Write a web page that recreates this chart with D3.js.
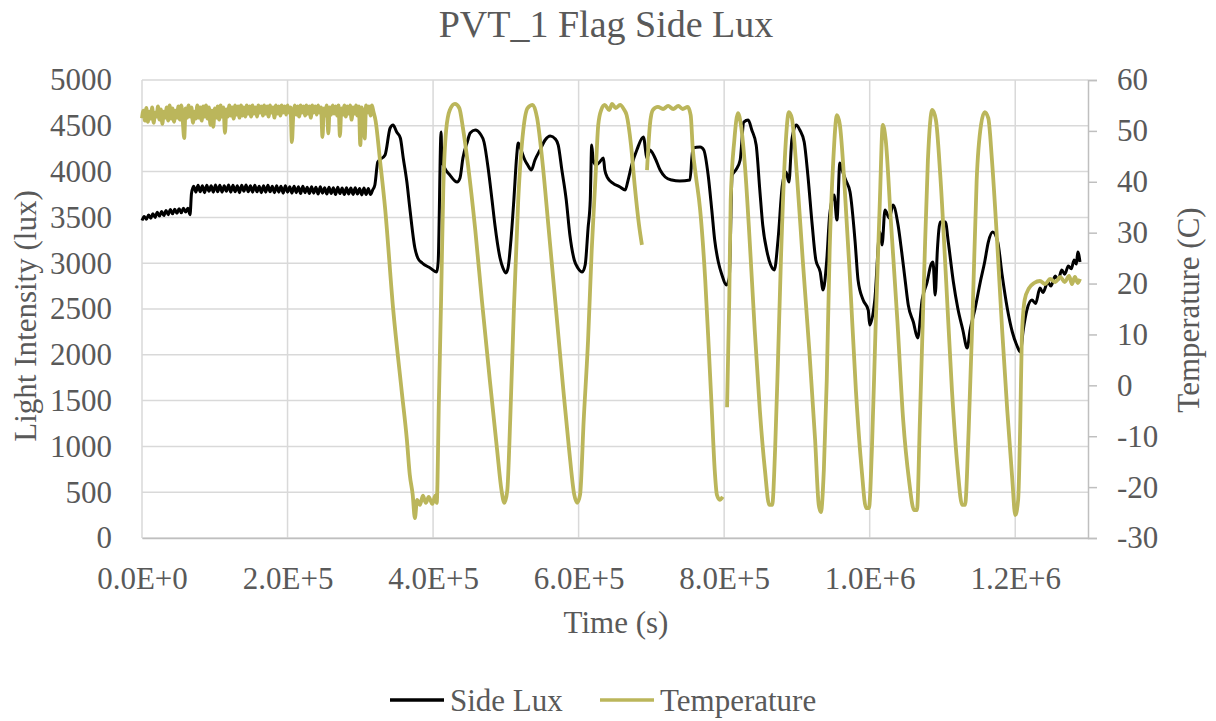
<!DOCTYPE html>
<html>
<head>
<meta charset="utf-8">
<script src="https://cdn.jsdelivr.net/npm/d3@7"></script>
<style>
  body { margin: 0; background: #fff; }
  text { font-family: "Liberation Serif", "Times New Roman", serif; fill: #595959; }
</style>
</head>
<body>
<div id="container"></div>
<script>
// time in kiloseconds
let luxTimeKs = [0,3,6,9,12,15,18,21,24,27,30,33,36,39,42,45,48,51,54,57,60,63,66,68,
  71,74,77,80,83,86,89,92,95,98,101,104,107,110,113,116,119,122,125,128,131,134,137,140,143,146,149,152,155,158,161,164,167,170,173,176,179,182,185,188,191,194,197,200,203,206,209,212,215,218,221,224,227,230,233,236,239,242,245,248,251,254,257,260,263,266,269,272,275,278,281,284,287,290,293,296,299,302,305,308,311,314,317,
  320,324,334,341,345,350,355,359,364,368,375,379,385,396,405,407,411,412,416,423,433,437,441,447,451,458,465,470,476,481,485,492,496,500,503,507,511,515,517,520,526,530,535,540,547,554,561,568,572,577,583,588,594,599,605,609,613,616,618,620,624,629,634,636,640,647,657,664,668,673,680,689,694,698,705,712,719,728,739,753,757,767,772,778,783,787,792,797,803,807,811,816,822,827,833,838,844,849,853,859,864,869,874,880,885,889,893,899,904,910,915,921,926,932,936,941,945,951,955,959,963,967,973,980,984,991,998,1000,1007,1014,1017,1021,1027,1032,1039,1044,1049,1053,1060,1066,1072,1079,1084,1087,1090,1093,1097,1104,1108,1115,1121,1128,1134,1138,1145,1152,1158,1163,1169,1176,1182,1189,1196,1202,1207,1211,1216,1223,1228,1234,1238,1245,1249,1255,1259,1264,1268,1273,1277,1281,1284,1286,1289];
let luxValue = [3465,3510,3480,3525,3490,3540,3500,3555,3515,3565,3520,3575,3530,3585,3540,3590,3545,3595,3550,3600,3560,3600,3530,3760,
  3840,3775,3850,3780,3845,3770,3850,3785,3845,3775,3855,3780,3850,3775,3845,3785,3855,3775,3850,3780,
  3845,3770,3850,3785,3855,3780,3845,3775,3850,3780,3840,3770,3845,3775,3850,3780,3840,3770,3845,3775,
  3840,3765,3845,3775,3835,3765,3840,3770,3835,3760,3840,3770,3830,3760,3835,3765,3830,3755,3835,3765,
  3825,3755,3830,3760,3825,3750,3830,3760,3820,3750,3825,3755,3820,3750,3825,3755,3815,3745,3820,3750,
  3815,3750,3800,
  3854,4105,4181,4476,4509,4432,4367,4149,3886,3603,3166,3057,3002,2948,2904,3013,4432,4127,4039,3963,3886,3930,4149,4323,4421,4454,4410,4323,4017,3690,3417,3057,2948,2893,2948,3253,3690,4181,4312,4258,4127,4072,4017,4127,4236,4345,4389,4356,4290,4017,3690,3308,3035,2948,2904,2980,3384,3690,4290,4127,4072,4105,4149,4017,3930,3875,3832,3799,3908,4072,4236,4378,4149,4236,4149,4017,3941,3908,3897,3908,4258,4269,4236,3963,3581,3253,3013,2871,2762,2838,3963,4017,4127,4541,4563,4454,4290,3799,3417,3122,2980,2926,3253,3854,3996,3886,4345,4509,4454,4323,3963,3417,3035,2904,2707,3035,3526,3745,3472,4094,3996,3908,3777,3231,2817,2598,2489,2325,2598,3341,3199,3581,3493,3635,3417,3122,2795,2544,2358,2183,2598,2795,2980,3013,2653,3144,3450,3450,3231,2795,2511,2271,2074,2271,2511,2795,3013,3231,3341,3231,2871,2511,2249,2107,2031,2271,2489,2598,2560,2729,2680,2795,2750,2860,2820,2926,2880,2969,2940,3035,2990,3122,3013];

// null marks a break in the logged temperature
let tempTimeKs = [0,2,4,6,8,10,12,14,16,18,20,22,24,26,28,30,32,34,36,38,40,42,44,46,48,50,52,54,56,58,60,62,64,66,68,70,72,74,76,78,
  80,82,84,86,88,90,92,94,96,98,100,102,104,106,108,110,112,114,116,118,120,122,124,126,128,130,132,134,136,138,140,142,144,146,148,150,152,154,156,158,
  160,162,164,166,168,170,172,174,176,178,180,182,184,186,188,190,192,194,196,198,200,202,204,206,208,210,212,214,216,218,220,222,224,226,228,230,232,234,236,238,
  240,242,244,246,248,250,252,254,256,258,260,262,264,266,268,270,272,274,276,278,280,282,284,286,288,290,292,294,296,298,300,302,304,306,308,310,312,314,316,318,321,
  327,334,345,357,364,368,372,375,378,382,386,390,394,399,403,405,408,411,414,418,423,430,436,441,448,458,467,478,488,494,498,502,506,511,517,524,530,537,543,550,559,569,579,587,594,598,602,607,613,618,623,627,631,636,642,646,651,657,662,666,672,677,683,687,
  690,694,698,702,709,716,723,730,737,743,750,754,757,761,767,774,779,783,787,790,794,798,
  801,804,807,809,814,819,823,829,835,842,849,856,862,866,870,874,878,884,889,893,900,908,917,925,930,933,937,941,945,950,955,959,965,973,981,989,995,999,1003,1008,1014,1018,1022,1029,1038,1046,1054,1061,1065,1069,1075,1080,1086,1091,1097,1105,1113,1121,1127,1131,1136,1142,1147,1153,1158,1163,1168,1175,1182,1189,1196,1200,1204,1207,1209,1213,1219,1226,1234,1241,1248,1255,1262,1268,1274,1278,1282,1286,1289];
let tempValue = [52.5,54.0,52.0,54.5,51.8,53.8,52.4,54.6,51.6,53.6,52.8,54.8,52.2,54.2,51.4,53.8,52.6,54.6,52.0,55.0,
  52.4,54.4,51.8,54.0,52.6,54.8,52.2,55.0,52.0,48.6,54.4,52.6,55.0,52.8,54.6,51.6,53.8,52.4,55.0,52.6,
  54.6,52.0,54.8,52.8,55.0,52.4,54.6,51.2,54.0,50.8,54.4,52.6,54.8,52.2,55.0,52.8,54.6,49.6,54.2,52.8,
  55.0,53.0,54.6,52.4,55.0,53.2,54.8,52.6,55.0,53.0,54.6,52.8,55.0,53.4,54.8,52.8,55.0,53.4,54.6,52.8,
  55.0,53.6,54.8,53.0,55.0,53.4,54.8,52.8,55.0,53.6,54.6,52.6,55.0,53.4,54.8,53.0,55.0,53.6,54.8,53.2,
  55.0,53.6,54.6,47.8,53.4,55.0,53.2,54.8,52.8,55.0,53.6,54.8,53.0,55.0,53.4,54.8,52.6,55.0,53.6,54.8,
  53.2,55.0,53.6,54.6,48.8,54.4,53.0,55.0,49.5,54.6,53.2,55.0,53.4,54.8,53.0,55.0,49.0,54.4,53.2,55.0,
  52.8,54.8,53.4,55.0,52.2,54.6,53.4,55.0,53.0,54.8,47.2,54.6,53.2,48.5,55.0,53.6,54.8,53.0,55.0,53.8,52.0,
  44.3,34.9,15.2,-1.3,-10.7,-17.6,-21.5,-26.1,-22.5,-23.5,-21.7,-23.1,-21.9,-23.3,-21.7,-23.1,-2.9,16.8,38.4,50.2,54.1,55.3,54.5,50.6,43.3,30.5,16.8,1.0,-12.7,-20.6,-23.1,-20.6,-6.8,14.8,36.4,50.2,54.5,55.1,52.5,44.3,30.5,14.8,-0.9,-12.7,-21.5,-23.1,-21.5,-6.8,8.9,26.6,40.3,51.2,54.1,55.1,54.1,55.3,54.5,55.1,54.3,53.1,47.2,39.4,31.5,27.6,
  null,42.3,51.2,54.1,54.7,54.3,54.9,54.3,54.9,54.3,54.7,53.1,46.2,41.3,34.5,20.7,6.9,-4.8,-16.6,-21.5,-22.5,-21.9,
  null,-4.3,16.8,36.4,48.2,53.5,51.2,42.3,28.6,10.9,-4.8,-16.6,-23.5,-23.5,-12.7,5.0,24.6,46.2,53.7,52.5,41.3,24.6,6.9,-10.7,-23.5,-24.9,-16.6,1.0,26.6,44.3,53.1,51.2,40.3,20.7,-0.9,-16.6,-24.1,-24.1,-12.7,10.9,36.4,51.2,48.2,32.5,12.8,-6.8,-18.6,-24.5,-24.5,-6.8,22.7,44.3,54.1,52.1,41.3,20.7,-0.9,-16.6,-23.5,-23.5,-8.8,16.8,40.3,51.2,53.7,52.5,44.3,28.6,10.9,-4.8,-18.6,-25.5,-22.5,-6.8,8.9,16.8,19.1,20.1,20.5,19.9,20.9,20.3,21.3,20.3,21.5,19.9,21.3,20.1,20.9];

let xTicks = [0, 200, 400, 600, 800, 1000, 1200];
let luxTicks = [0, 500, 1000, 1500, 2000, 2500, 3000, 3500, 4000, 4500, 5000];
let tempTicks = [-30, -20, -10, 0, 10, 20, 30, 40, 50, 60];

let luxColor = '#000000';
let tempColor = '#bbb65b';

let W = 1216, H = 721;
let plotLeft = 142, plotRight = 1088, plotTop = 80, plotBottom = 538;

let svg = d3.select('#container')
            .append('svg')
            .attr('width', W)
            .attr('height', H);

svg.append('rect').attr('width', W).attr('height', H).attr('fill', '#fff');

let x = d3.scaleLinear().domain([0, 1300]).range([plotLeft, plotRight]);
let yLux = d3.scaleLinear().domain([0, 5000]).range([plotBottom, plotTop]);
let yTemp = d3.scaleLinear().domain([-30, 60]).range([plotBottom, plotTop]);

// gridlines
svg.append('g')
    .selectAll('line')
    .data(luxTicks)
    .enter()
    .append('line')
    .attr('x1', plotLeft).attr('x2', plotRight)
    .attr('y1', d => yLux(d)).attr('y2', d => yLux(d))
    .attr('stroke', '#d9d9d9').attr('stroke-width', 1.5);

svg.append('g')
    .selectAll('line')
    .data(xTicks)
    .enter()
    .append('line')
    .attr('x1', d => x(d)).attr('x2', d => x(d))
    .attr('y1', plotTop).attr('y2', plotBottom)
    .attr('stroke', '#d9d9d9').attr('stroke-width', 1.5);

// bottom axis
let xAxis = svg.append('g')
    .attr('transform', `translate(0,${plotBottom})`)
    .call(d3.axisBottom(x).tickValues(xTicks).tickSize(0).tickPadding(0)
        .tickFormat(d => (d * 1000).toExponential(1).toUpperCase()));
xAxis.select('.domain').attr('stroke', '#bfbfbf').attr('stroke-width', 1.5);
xAxis.selectAll('text').attr('font-size', 31).attr('dy', '1.63em').attr('fill', '#595959');

// left axis
let yAxisL = svg.append('g')
    .attr('transform', `translate(${plotLeft},0)`)
    .call(d3.axisLeft(yLux).tickValues(luxTicks).tickSize(0).tickPadding(30)
        .tickFormat(d => String(d)));
yAxisL.select('.domain').remove();
yAxisL.selectAll('text').attr('font-size', 31).attr('fill', '#595959');

// right axis
let yAxisR = svg.append('g')
    .attr('transform', `translate(${plotRight},0)`)
    .call(d3.axisRight(yTemp).tickValues(tempTicks).tickSize(9).tickPadding(20)
        .tickFormat(d => String(d)));
yAxisR.select('.domain').attr('stroke', '#bfbfbf').attr('stroke-width', 1.5);
yAxisR.selectAll('line').attr('stroke', '#bfbfbf').attr('stroke-width', 1.5);
yAxisR.selectAll('text').attr('font-size', 31).attr('fill', '#595959');
svg.selectAll('.tick text').attr('font-family', '"Liberation Serif", serif');

// lines
let nLux = Math.min(luxTimeKs.length, luxValue.length);
let nTemp = Math.min(tempTimeKs.length, tempValue.length);
let luxData = luxTimeKs.slice(0, nLux).map((t, i) => ({t: t, v: luxValue[i]}));
let tempData = tempTimeKs.slice(0, nTemp).map((t, i) => ({t: t, v: tempValue[i]}));

let luxLine = d3.line()
    .curve(d3.curveMonotoneX)
    .x(d => x(d.t))
    .y(d => yLux(d.v));
let tempLine = d3.line()
    .defined(d => d.v != null)
    .curve(d3.curveMonotoneX)
    .x(d => x(d.t))
    .y(d => yTemp(d.v));

svg.append('path')
    .datum(luxData)
    .attr('d', luxLine)
    .attr('fill', 'none')
    .attr('stroke', luxColor)
    .attr('stroke-width', 3)
    .attr('stroke-linejoin', 'round');

svg.append('path')
    .datum(tempData)
    .attr('d', tempLine)
    .attr('fill', 'none')
    .attr('stroke', tempColor)
    .attr('stroke-width', 3.8)
    .attr('stroke-linejoin', 'round');

// titles
svg.append('text')
    .attr('x', 606).attr('y', 37)
    .attr('text-anchor', 'middle')
    .attr('font-size', 38)
    .text('PVT_1 Flag Side Lux');

svg.append('text')
    .attr('x', 616).attr('y', 633)
    .attr('text-anchor', 'middle')
    .attr('font-size', 31)
    .text('Time (s)');

svg.append('text')
    .attr('transform', 'translate(36,316) rotate(-90)')
    .attr('text-anchor', 'middle')
    .attr('font-size', 31)
    .text('Light Intensity (lux)');

svg.append('text')
    .attr('transform', 'translate(1199,310) rotate(-90)')
    .attr('text-anchor', 'middle')
    .attr('font-size', 31)
    .text('Temperature (C)');

// legend
let legend = [
    {name: 'Side Lux', color: luxColor, x: 390},
    {name: 'Temperature', color: tempColor, x: 600}
];
legend.forEach(l => {
    svg.append('line')
        .attr('x1', l.x).attr('x2', l.x + 54)
        .attr('y1', 700).attr('y2', 700)
        .attr('stroke', l.color).attr('stroke-width', 3.5);
    svg.append('text')
        .attr('x', l.x + 60).attr('y', 711)
        .attr('font-size', 31)
        .text(l.name);
});
</script>
</body>
</html>
